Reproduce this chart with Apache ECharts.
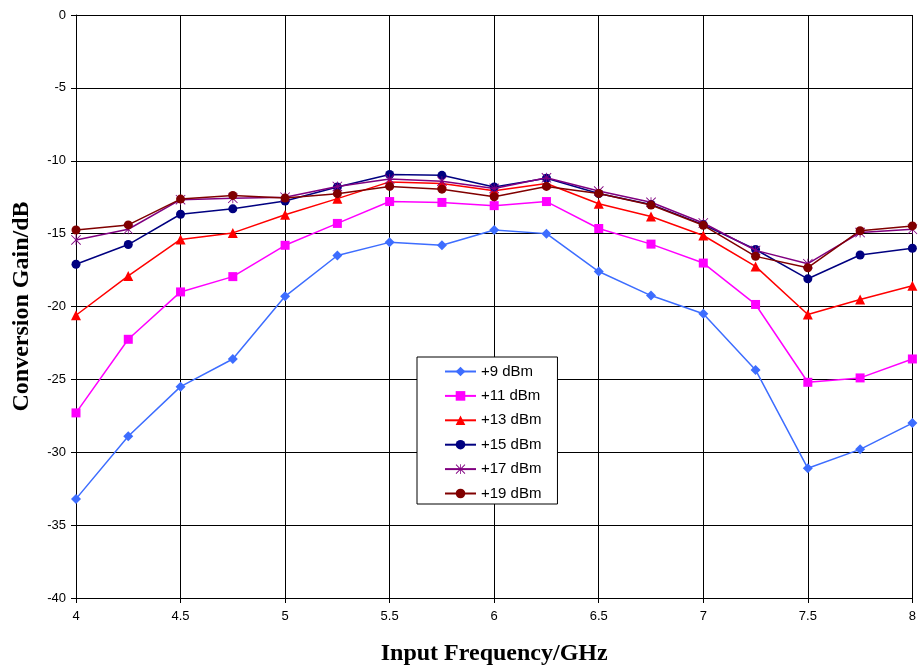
<!DOCTYPE html>
<html>
<head>
<meta charset="utf-8">
<script src="https://cdn.jsdelivr.net/npm/echarts@6/dist/echarts.min.js"></script>
<style>html,body{margin:0;padding:0;background:#fff}#c{width:919px;height:671px}</style>
</head>
<body>
<div id="c"></div>
<script>
const freqs = [4, 4.25, 4.5, 4.75, 5, 5.25, 5.5, 5.75, 6, 6.25, 6.5, 6.75, 7, 7.25, 7.5, 7.75, 8];
const xTicks = ['4','4.5','5','5.5','6','6.5','7','7.5','8'];
const p9  = [-33.2, -28.9, -25.5, -23.6, -19.3, -16.5, -15.6, -15.8, -14.75, -15.0, -17.6, -19.25, -20.5, -24.35, -31.1, -29.8, -28.0];
const p11 = [-27.3, -22.25, -19.0, -17.95, -15.8, -14.3, -12.8, -12.86, -13.08, -12.8, -14.65, -15.72, -17.02, -19.86, -25.2, -24.9, -23.6];
const p13 = [-20.6, -17.9, -15.4, -14.95, -13.7, -12.6, -11.45, -11.56, -12.06, -11.56, -12.95, -13.82, -15.13, -17.25, -20.55, -19.52, -18.57];
const p15 = [-17.1, -15.75, -13.67, -13.3, -12.76, -11.8, -10.94, -11.0, -11.8, -11.2, -12.25, -13.0, -14.38, -16.09, -18.1, -16.47, -16.0];
const p17 = [-15.43, -14.7, -12.67, -12.58, -12.5, -11.76, -11.26, -11.4, -11.9, -11.17, -12.08, -12.85, -14.27, -16.15, -17.06, -14.93, -14.7];
const p19 = [-14.75, -14.4, -12.63, -12.38, -12.56, -12.26, -11.76, -11.95, -12.47, -11.76, -12.24, -13.04, -14.43, -16.56, -17.34, -14.8, -14.47];
const names = ['+9 dBm', '+11 dBm', '+13 dBm', '+15 dBm', '+17 dBm', '+19 dBm'];

const asterisk = 'path://M-0.4,-5 L0.4,-5 L0.4,5 L-0.4,5 Z M-5,-4.4 L-4.4,-5 L5,4.4 L4.4,5 Z M4.4,-5 L5,-4.4 L-4.4,5 L-5,4.4 Z';
const styles = [
  {color: '#3d6dff', symbol: 'diamond', size: 10},
  {color: '#ff00ff', symbol: 'rect', size: 9},
  {color: '#ff0000', symbol: 'triangle', size: 10},
  {color: '#000080', symbol: 'circle', size: 9},
  {color: '#800080', symbol: asterisk, size: 10},
  {color: '#800000', symbol: 'circle', size: 9}
];
const allData = [p9, p11, p13, p15, p17, p19];

const series = allData.map((vals, i) => ({
  name: names[i],
  type: 'line',
  data: freqs.map((f, j) => [f, vals[j]]),
  symbol: styles[i].symbol,
  symbolSize: styles[i].size,
  showAllSymbol: true,
  lineStyle: {color: styles[i].color, width: 1.5},
  itemStyle: {color: styles[i].color, borderWidth: 0},
  emphasis: {disabled: true},
  animation: false,
  z: 2 + i
}));

const chart = echarts.init(document.getElementById('c'));
chart.setOption({
  backgroundColor: '#fff',
  animation: false,
  grid: {left: 76, right: 5, top: 15, bottom: 70, containLabel: false},
  legend: {
    orient: 'vertical',
    left: 417, top: 357,
    data: names,
    itemWidth: 31, itemHeight: 12, itemGap: 9.4,
    padding: [7, 16, 3, 27],
    borderColor: '#000', borderWidth: 1,
    backgroundColor: '#fff',
    textStyle: {fontFamily: 'Liberation Sans, Arial, sans-serif', fontSize: 15, color: '#000'}
  },
  xAxis: {
    type: 'value', min: 4, max: 8, interval: 0.5,
    name: 'Input Frequency/GHz', nameLocation: 'middle', nameGap: 44,
    nameTextStyle: {fontFamily: 'Liberation Serif, Times New Roman, serif', fontWeight: 'bold', fontSize: 24, color: '#000'},
    axisLine: {show: true, onZero: false, lineStyle: {color: '#000', width: 1}},
    axisTick: {show: true, length: 5, lineStyle: {color: '#000'}},
    axisLabel: {margin: 12, fontFamily: 'Liberation Sans, Arial, sans-serif', fontSize: 13, color: '#000',
      formatter: v => { const s = String(v); return xTicks.includes(s) ? s : ''; }},
    splitLine: {show: true, lineStyle: {color: '#000', width: 1}}
  },
  yAxis: {
    type: 'value', min: -40, max: 0, interval: 5,
    name: 'Conversion Gain/dB', nameLocation: 'middle', nameGap: 42,
    nameTextStyle: {fontFamily: 'Liberation Serif, Times New Roman, serif', fontWeight: 'bold', fontSize: 24, color: '#000'},
    axisLine: {show: true, lineStyle: {color: '#000', width: 1}},
    axisTick: {show: true, length: 5, lineStyle: {color: '#000'}},
    axisLabel: {margin: 10, fontFamily: 'Liberation Sans, Arial, sans-serif', fontSize: 13, color: '#000'},
    splitLine: {show: true, lineStyle: {color: '#000', width: 1}}
  },
  series: series
});
</script>
</body>
</html>
